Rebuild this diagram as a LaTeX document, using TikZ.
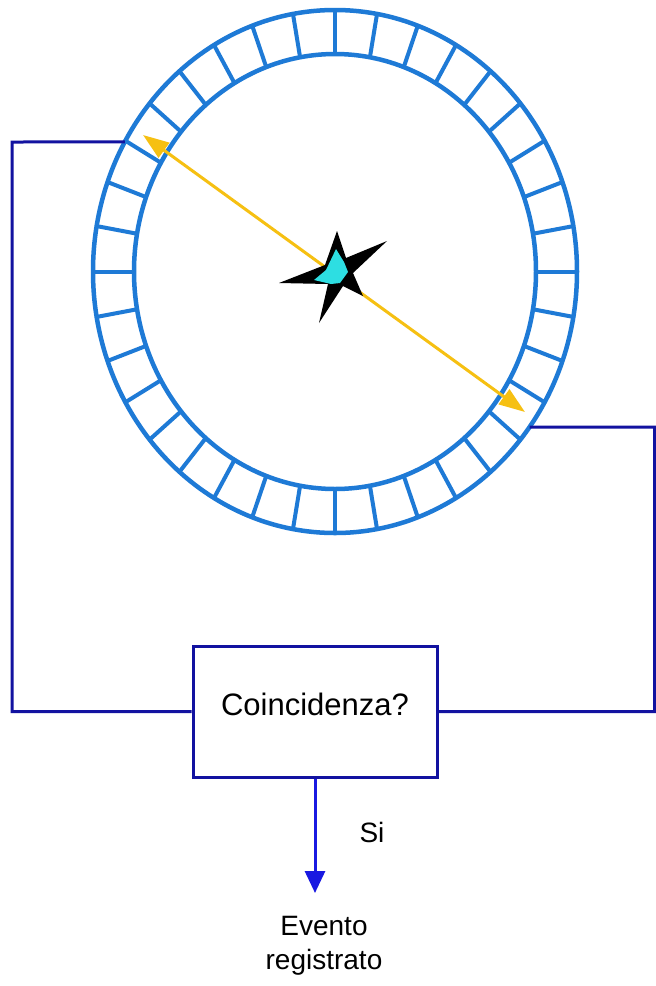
\documentclass[tikz,border=0pt]{standalone}
\usepackage{fontspec}
\setmainfont{Liberation Sans}
\usetikzlibrary{arrows.meta}
\definecolor{ringblue}{RGB}{30,122,214}
\definecolor{wireblue}{RGB}{18,18,160}
\definecolor{arrowblue}{RGB}{25,25,225}
\definecolor{raygold}{RGB}{246,192,18}
\definecolor{starcyan}{RGB}{45,222,226}
\begin{document}
\begin{tikzpicture}[x=1pt,y=-1pt,
  ring/.style={draw=ringblue,line width=4.5pt},
  wire/.style={draw=wireblue,line width=3pt},
  ray/.style={draw=raygold,line width=3pt,
    {Triangle[length=26pt,width=18pt]}-{Triangle[length=26pt,width=18pt]}},
  flow/.style={draw=arrowblue,line width=3pt,-{Triangle[length=22pt,width=20pt]}},
  txt/.style={font=\fontsize{28}{34}\selectfont,inner sep=0pt,align=center},
  decision/.style={draw=wireblue,line width=3pt,minimum width=244pt,
    minimum height=131pt,inner sep=0pt,font=\fontsize{31}{36}\selectfont,
    text depth=15pt}]
\useasboundingbox (0,0) rectangle (656,986);
\fill[white] (0,0) rectangle (656,986);

% detector ring: two ellipses with 36 radial segments
\coordinate (c) at (335,271.5);
\draw[ring] (c) ellipse [x radius=242, y radius=261.5];
\draw[ring] (c) ellipse [x radius=201, y radius=217.5];
\foreach \a in {0,10,...,350}
  \draw[ring,line width=4pt] ([shift={(c)}]\a:201 and 217.5) -- ([shift={(c)}]\a:242 and 261.5);

% points where the readout wires leave the ring (y axis points down)
\coordinate (ringL) at ([shift={(c)}]-150.3:242 and 261.5);
\coordinate (ringR) at ([shift={(c)}]36.5:242 and 261.5);

% back-to-back photons
\coordinate (hitL) at (143,135);
\coordinate (hitR) at (525,412);
\draw[ray] (hitL) -- (hitR);

% annihilation point
\fill[black] (337,231) -- (346,258) -- (387,241) -- (353,273) -- (363,296)
  -- (343,286) -- (319,323) -- (328,284) -- (279,283) -- (325,265) -- cycle;
\fill[starcyan] (336,249) -- (344,262) -- (348,272) -- (340,283) -- (331,284)
  -- (314,280) -- (326,270) -- cycle;

% coincidence unit
\node[decision] (box) at (315,711.5) {Coincidenza?};

\coordinate (cornerL) at (12,142);
\coordinate (cornerR) at (654.5,427);
\draw[wire] (ringL) -- (cornerL) |- (box.west);
\draw[wire] (ringR) -- (cornerR) |- (box.east);

% output
\node[txt] (yes) at (372,832) {Si};
\node[txt] (evt) at (324,946) {Evento\\registrato};
\coordinate (tip) at (315,893);
\draw[flow] (box.south) -- (tip);
\end{tikzpicture}
\end{document}
